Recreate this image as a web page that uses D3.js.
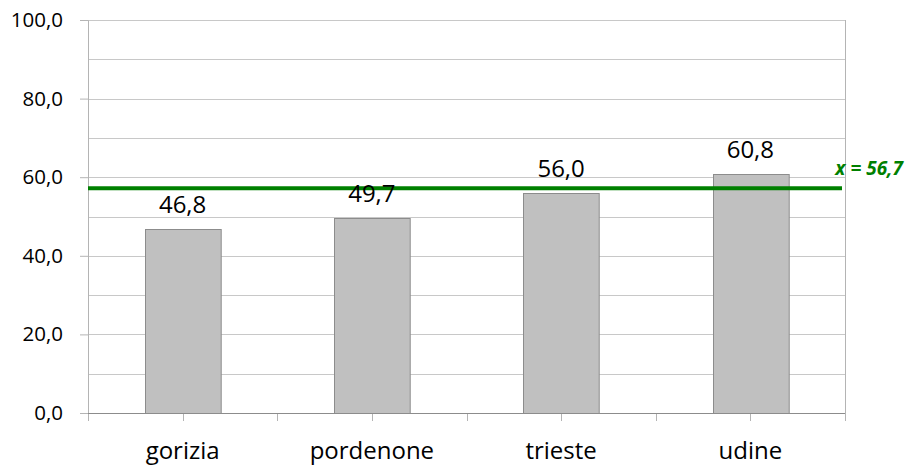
<!DOCTYPE html>
<html>
<head>
<meta charset="utf-8">
<script src="https://cdn.jsdelivr.net/npm/d3@7"></script>
<style>
  html, body { margin: 0; padding: 0; background: #fff; }
  svg { display: block; font-family: "Open Sans", "Noto Sans", sans-serif; }
</style>
</head>
<body>
<div id="chart"></div>
<script>
"use strict";

// ── Data ──────────────────────────────────────────────────────────────────────
const categories = ["gorizia", "pordenone", "trieste", "udine"];
const values     = [46.8, 49.7, 56.0, 60.8];
const meanValue  = 56.7;
const yTicks     = [0, 20, 40, 60, 80, 100];
const yGrid      = [0, 10, 20, 30, 40, 50, 60, 70, 80, 90, 100];

const fmt = (v) => v.toFixed(1).replace(".", ",");

// ── Layout ────────────────────────────────────────────────────────────────────
const W = 908, H = 466;
const M = { top: 20, right: 63, bottom: 53, left: 88 };
const iW = W - M.left - M.right;
const iH = H - M.top - M.bottom;

const svg = d3.select("#chart").append("svg")
  .attr("width", W).attr("height", H);

const g = svg.append("g").attr("transform", `translate(${M.left},${M.top})`);

const x = d3.scaleBand().domain(categories).range([0, iW]).paddingInner(0.6).paddingOuter(0.3);
const y = d3.scaleLinear().domain([0, 100]).range([iH, 0]);

// ── Gridlines ──
g.append("g").selectAll("line").data(yGrid).join("line")
  .attr("x1", 0).attr("x2", iW)
  .attr("y1", (d) => Math.round(y(d)) + 0.5).attr("y2", (d) => Math.round(y(d)) + 0.5)
  .attr("stroke", "#c8c8c8").attr("stroke-width", 1);

// right border
g.append("line")
  .attr("x1", iW + 0.5).attr("x2", iW + 0.5)
  .attr("y1", 0).attr("y2", iH + 8)
  .attr("stroke", "#b4b4b4");

// ── Y axis ──
const yAxis = g.append("g")
  .call(d3.axisLeft(y).tickValues(yTicks).tickFormat(fmt).tickSize(8).tickPadding(17));
yAxis.select(".domain").attr("stroke", "#b4b4b4");
yAxis.selectAll(".tick line").attr("stroke", "#b4b4b4");
yAxis.selectAll(".tick text")
  .attr("fill", "#000").style("font-size", "20.5px")
  .attr("font-family", "'Open Sans', sans-serif");

// ── Bars ──
g.append("g").selectAll("rect").data(values).join("rect")
  .attr("x", (d, i) => Math.round(x(categories[i])) + 0.5)
  .attr("y", (d) => Math.round(y(d)) + 0.5)
  .attr("width", x.bandwidth())
  .attr("height", (d) => Math.round(iH - y(d)))
  .attr("fill", "#c0c0c0")
  .attr("stroke", "#8c8c8c").attr("stroke-width", 1);

// ── X axis ──
const step = iW / categories.length;
const xTickPos = d3.range(0, categories.length * 2 + 1).map((k) => k * step / 2);
g.append("g").selectAll("line").data(xTickPos).join("line")
  .attr("x1", (d) => Math.round(d) + 0.5).attr("x2", (d) => Math.round(d) + 0.5)
  .attr("y1", iH).attr("y2", iH + 8)
  .attr("stroke", "#b4b4b4");
g.append("line")
  .attr("x1", 0).attr("x2", iW)
  .attr("y1", iH + 0.5).attr("y2", iH + 0.5)
  .attr("stroke", "#8c8c8c");

g.append("g").selectAll("text").data(categories).join("text")
  .attr("x", (d) => x(d) + x.bandwidth() / 2)
  .attr("y", iH + 46)
  .attr("text-anchor", "middle")
  .style("font-size", "24px")
  .text((d) => d);

// ── Mean line ──
g.append("line")
  .attr("x1", 0).attr("x2", iW - 3)
  .attr("y1", y(meanValue) - 2).attr("y2", y(meanValue) - 2)
  .attr("stroke", "#008000").attr("stroke-width", 4);

// ── Value labels ──
g.append("g").selectAll("text").data(values).join("text")
  .attr("x", (d, i) => x(categories[i]) + x.bandwidth() / 2)
  .attr("y", (d) => y(d) - 16)
  .attr("text-anchor", "middle")
  .style("font-size", "24px")
  .text(fmt);

g.append("text")
  .attr("x", iW + 58).attr("y", y(meanValue) - 15)
  .attr("text-anchor", "end")
  .attr("fill", "#008000")
  .style("font-size", "19px").style("font-weight", "bold").style("font-style", "italic")
  .text("x = " + fmt(meanValue));
</script>
</body>
</html>
